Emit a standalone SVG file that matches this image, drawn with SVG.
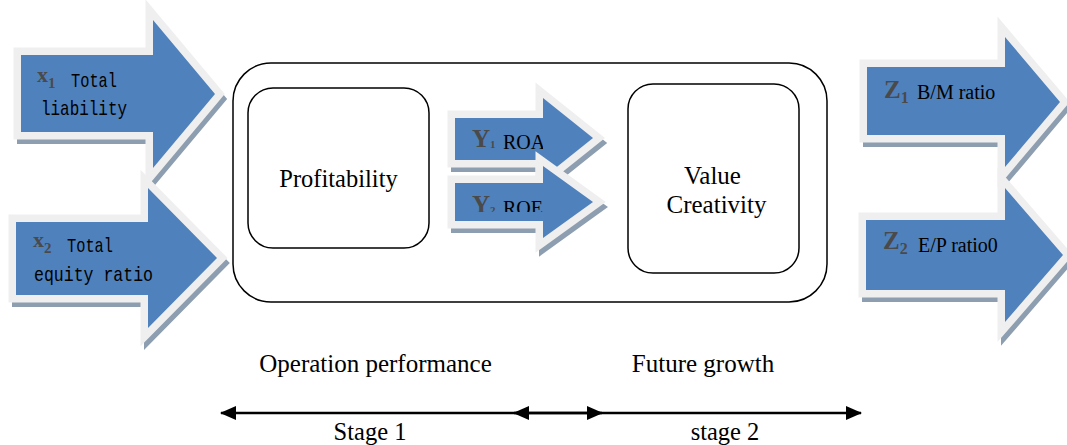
<svg xmlns="http://www.w3.org/2000/svg" xmlns:xlink="http://www.w3.org/1999/xlink" width="1067" height="445" viewBox="0 0 1067 445">
<style>
.sh{fill:#8d9eb1;stroke:#8d9eb1;stroke-width:14;stroke-linejoin:miter}
.bd{fill:#efefef;stroke:#efefef;stroke-width:15;stroke-linejoin:miter}
.fi{fill:#4f81bd;stroke:none}
.box{fill:#ffffff;stroke:#000000;stroke-width:1.5}
.mono{font-family:"Liberation Mono","DejaVu Sans Mono",monospace;font-size:21px;fill:#000}
.tm{font-family:"Liberation Serif","Times New Roman",serif;fill:#000}
.sym{font-family:"Liberation Serif","DejaVu Serif",serif;font-weight:bold;fill:#4a4a4a}
.ln{stroke:#000;stroke-width:2.5;fill:none}
</style>
<defs>
<polygon id="pa1" points="21,55 153,55 153,20 215,94 153,168 153,132 21,132"/>
<polygon id="pa2" points="16,222 148,222 148,188 217,258 148,328 148,295 16,295"/>
<polygon id="py1" points="455,118 543,118 543,98 593,138 543,178 543,160 455,160"/>
<polygon id="py2" points="455,183 543,183 543,166 593,202 543,238 543,221 455,221"/>
<polygon id="pz1" points="867,67 1005,67 1005,37 1060,102 1005,167 1005,135 867,135"/>
<polygon id="pz2" points="866,220 1005,220 1005,188 1063,255 1005,322 1005,290 866,290"/>
<clipPath id="cy1"><rect x="455" y="118" width="88" height="42"/></clipPath>
<clipPath id="cy2"><rect x="455" y="183" width="88" height="29"/></clipPath>
<marker id="ah" viewBox="0 0 16 14" refX="15" refY="7" markerWidth="16" markerHeight="14" markerUnits="userSpaceOnUse" orient="auto-start-reverse">
<path d="M0,0 L16,7 L0,14 Z" fill="#000"/>
</marker>
</defs>

<g id="container">
<rect class="box" x="233" y="63" width="594" height="239" rx="38" ry="38"/>
</g>

<g id="node-x1">
<use xlink:href="#pa1" class="sh" transform="translate(3,5)"/>
<use xlink:href="#pa1" class="bd"/>
<use xlink:href="#pa1" class="fi"/>
<text class="sym" x="37" y="82" font-size="22">x<tspan font-size="15" dy="6">1</tspan></text>
<text class="mono" x="71" y="87" textLength="46" lengthAdjust="spacingAndGlyphs">Total</text>
<text class="mono" x="41" y="115" textLength="86" lengthAdjust="spacingAndGlyphs">liability</text>
</g>

<g id="node-x2">
<use xlink:href="#pa2" class="sh" transform="translate(3,5)"/>
<use xlink:href="#pa2" class="bd"/>
<use xlink:href="#pa2" class="fi"/>
<text class="sym" x="33" y="247" font-size="22">x<tspan font-size="15" dy="6">2</tspan></text>
<text class="mono" x="67" y="252" textLength="46" lengthAdjust="spacingAndGlyphs">Total</text>
<text class="mono" x="34" y="281" textLength="119" lengthAdjust="spacingAndGlyphs">equity ratio</text>
</g>

<g id="node-profitability">
<rect class="box" x="248" y="88" width="181" height="160" rx="25" ry="25"/>
<text class="tm" x="338.5" y="187" font-size="24.5" text-anchor="middle">Profitability</text>
</g>

<g id="node-y1">
<use xlink:href="#py1" class="sh" transform="translate(3,5)"/>
<use xlink:href="#py1" class="bd"/>
<use xlink:href="#py1" class="fi"/>
<g clip-path="url(#cy1)">
<text class="sym" x="472" y="147" font-size="25">Y<tspan font-size="11" dy="1">1</tspan></text>
<text class="tm" x="503" y="149" font-size="20">ROA</text>
</g>
</g>

<g id="node-y2">
<use xlink:href="#py2" class="sh" transform="translate(3,5)"/>
<use xlink:href="#py2" class="bd"/>
<use xlink:href="#py2" class="fi"/>
<g clip-path="url(#cy2)">
<text class="sym" x="472" y="213" font-size="25">Y<tspan font-size="11" dy="1">2</tspan></text>
<text class="tm" x="503" y="215" font-size="20">ROE</text>
</g>
</g>

<g id="node-value">
<rect class="box" x="628" y="84" width="171" height="189" rx="25" ry="25"/>
<text class="tm" x="712.5" y="184" font-size="25" text-anchor="middle">Value</text>
<text class="tm" x="716.5" y="213" font-size="25" text-anchor="middle">Creativity</text>
</g>

<g id="node-z1">
<use xlink:href="#pz1" class="sh" transform="translate(3,5)"/>
<use xlink:href="#pz1" class="bd"/>
<use xlink:href="#pz1" class="fi"/>
<text class="sym" x="884" y="98" font-size="25">Z<tspan font-size="16" dy="5">1</tspan></text>
<text class="tm" x="917" y="99" font-size="20">B/M ratio</text>
</g>

<g id="node-z2">
<use xlink:href="#pz2" class="sh" transform="translate(3,5)"/>
<use xlink:href="#pz2" class="bd"/>
<use xlink:href="#pz2" class="fi"/>
<text class="sym" x="883" y="249" font-size="25">Z<tspan font-size="16" dy="5">2</tspan></text>
<text class="tm" x="918" y="252" font-size="20">E/P ratio0</text>
</g>

<g id="labels">
<text class="tm" x="375.5" y="372" font-size="25" text-anchor="middle">Operation performance</text>
<text class="tm" x="703" y="372" font-size="25" text-anchor="middle">Future growth</text>
<text class="tm" x="370" y="440" font-size="24.5" text-anchor="middle">Stage 1</text>
<text class="tm" x="725" y="440" font-size="24.5" text-anchor="middle">stage 2</text>
</g>

<g id="connectors">
<line class="ln" x1="221" y1="413" x2="602" y2="413" marker-start="url(#ah)" marker-end="url(#ah)"/>
<line class="ln" x1="514" y1="413" x2="861" y2="413" marker-start="url(#ah)" marker-end="url(#ah)"/>
</g>
</svg>
